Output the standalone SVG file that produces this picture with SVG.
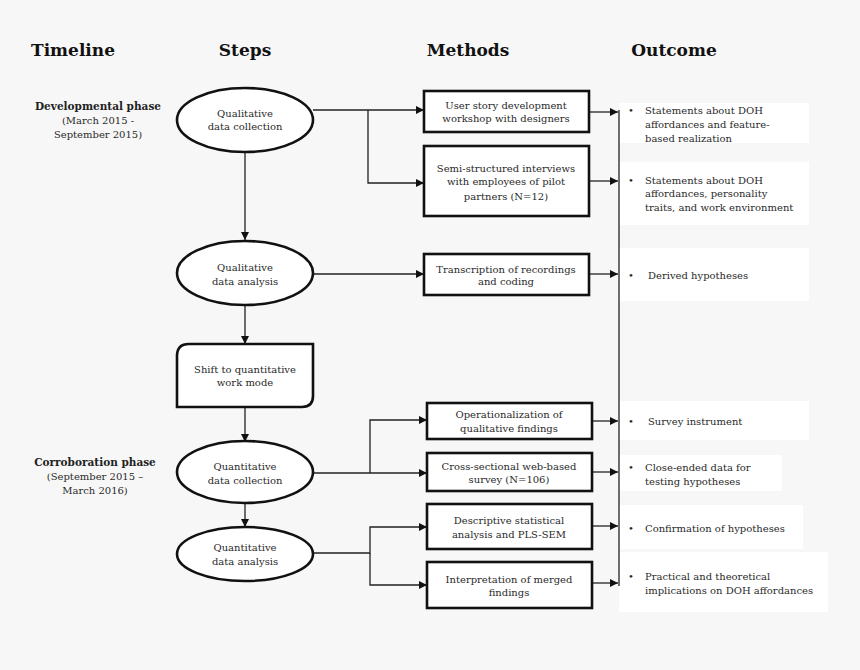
<svg xmlns="http://www.w3.org/2000/svg" width="860" height="670" viewBox="0 0 860 670">
<defs>
<style>
text{font-family:"DejaVu Serif","Liberation Serif",serif;fill:#2a2a2a;font-size:10px;}
.h{font-size:17px;font-weight:bold;fill:#111;}
.c{text-anchor:middle;}
.ph{font-weight:bold;fill:#222;font-size:10.5px;}
.n{fill:#fff;stroke:#111;stroke-width:2.6;}
.o{fill:#fff;stroke:none;}
.l{fill:none;stroke:#222;stroke-width:1.3;}
</style>
<marker id="a" viewBox="0 0 10 10" refX="10" refY="5" markerWidth="9" markerHeight="8" markerUnits="userSpaceOnUse" orient="auto"><path d="M0,0L10,5L0,10z" fill="#111"/></marker>
</defs>
<rect width="860" height="670" fill="#f7f7f7"/>
<g id="headers">
<text class="h c" x="73" y="56">Timeline</text>
<text class="h c" x="245" y="56">Steps</text>
<text class="h c" x="468" y="56">Methods</text>
<text class="h c" x="674" y="56">Outcome</text>
</g>
<g id="timeline">
<text class="ph c" x="98" y="110">Developmental phase</text>
<text class="c" x="98" y="124">(March 2015 -</text>
<text class="c" x="98" y="138">September 2015)</text>
<text class="ph c" x="95" y="466">Corroboration phase</text>
<text class="c" x="95" y="480">(September 2015 –</text>
<text class="c" x="95" y="494">March 2016)</text>
</g>
<g id="outcomes">
<rect class="o" x="619" y="103" width="190" height="40"/>
<rect class="o" x="619" y="162" width="190" height="63"/>
<rect class="o" x="619" y="248" width="190" height="53"/>
<rect class="o" x="619" y="401" width="190" height="39"/>
<rect class="o" x="619" y="455" width="163" height="36"/>
<rect class="o" x="619" y="505" width="184" height="44"/>
<rect class="o" x="619" y="552" width="209" height="60"/>
<text x="628" y="114">•</text><text x="645" y="114">Statements about DOH</text><text x="645" y="128">affordances and feature-</text><text x="645" y="142">based realization</text>
<text x="628" y="184">•</text><text x="645" y="184">Statements  about DOH</text><text x="645" y="197">affordances, personality</text><text x="645" y="211">traits, and work environment</text>
<text x="628" y="279">•</text><text x="648" y="279">Derived hypotheses</text>
<text x="628" y="425">•</text><text x="648" y="425">Survey instrument</text>
<text x="628" y="471">•</text><text x="645" y="471">Close-ended data for</text><text x="645" y="485">testing hypotheses</text>
<text x="628" y="532">•</text><text x="645" y="532">Confirmation of hypotheses</text>
<text x="628" y="580">•</text><text x="645" y="580">Practical and theoretical</text><text x="645" y="594">implications on DOH affordances</text>
</g>
<g id="connectors">
<path class="l" d="M245,152V240" marker-end="url(#a)"/>
<path class="l" d="M245,305V344" marker-end="url(#a)"/>
<path class="l" d="M245,407V442" marker-end="url(#a)"/>
<path class="l" d="M245,503V527" marker-end="url(#a)"/>
<path class="l" d="M313,110H424" marker-end="url(#a)"/>
<path class="l" d="M368,110V183H424" marker-end="url(#a)"/>
<path class="l" d="M313,274H424" marker-end="url(#a)"/>
<path class="l" d="M313,473H427" marker-end="url(#a)"/>
<path class="l" d="M370,473V420H427" marker-end="url(#a)"/>
<path class="l" d="M313,553H370V527H427" marker-end="url(#a)"/>
<path class="l" d="M370,553V585H427" marker-end="url(#a)"/>
<path class="l" d="M589,112H618" marker-end="url(#a)"/>
<path class="l" d="M589,181H618" marker-end="url(#a)"/>
<path class="l" d="M589,274H618" marker-end="url(#a)"/>
<path class="l" d="M592,421H618" marker-end="url(#a)"/>
<path class="l" d="M592,472H618" marker-end="url(#a)"/>
<path class="l" d="M592,526H618" marker-end="url(#a)"/>
<path class="l" d="M592,583H618" marker-end="url(#a)"/>
<path class="l" d="M619,110V586"/>
</g>
<g id="step1"><ellipse class="n" cx="245" cy="120" rx="68" ry="32"/><text class="c" x="245" y="117">Qualitative</text><text class="c" x="245" y="130">data collection</text></g>
<g id="step2"><ellipse class="n" cx="245" cy="273" rx="68" ry="32"/><text class="c" x="245" y="271">Qualitative</text><text class="c" x="245" y="285">data analysis</text></g>
<g id="step3"><path class="n" d="M189,344H313V396Q313,407 302,407H177V356Q177,344 189,344Z"/><text class="c" x="245" y="373">Shift to quantitative</text><text class="c" x="245" y="386">work mode</text></g>
<g id="step4"><ellipse class="n" cx="245" cy="472" rx="68" ry="31"/><text class="c" x="245" y="470">Quantitative</text><text class="c" x="245" y="484">data collection</text></g>
<g id="step5"><ellipse class="n" cx="245" cy="554" rx="68" ry="27"/><text class="c" x="245" y="551">Quantitative</text><text class="c" x="245" y="565">data analysis</text></g>
<g id="m1"><rect class="n" x="424" y="91" width="165" height="41"/><text class="c" x="506" y="109">User story development</text><text class="c" x="506" y="122">workshop with designers</text></g>
<g id="m2"><rect class="n" x="424" y="146" width="165" height="70"/><text class="c" x="506" y="172">Semi-structured interviews</text><text class="c" x="506" y="185">with employees of pilot</text><text class="c" x="506" y="200">partners (N=12)</text></g>
<g id="m3"><rect class="n" x="424" y="254" width="165" height="41"/><text class="c" x="506" y="273">Transcription of recordings</text><text class="c" x="506" y="285">and coding</text></g>
<g id="m4"><rect class="n" x="427" y="403" width="165" height="36"/><text class="c" x="509" y="418">Operationalization of</text><text class="c" x="509" y="432">qualitative findings</text></g>
<g id="m5"><rect class="n" x="427" y="453" width="165" height="38"/><text class="c" x="509" y="470">Cross-sectional web-based</text><text class="c" x="509" y="483">survey (N=106)</text></g>
<g id="m6"><rect class="n" x="427" y="504" width="165" height="45"/><text class="c" x="509" y="524">Descriptive statistical</text><text class="c" x="509" y="538">analysis and PLS-SEM</text></g>
<g id="m7"><rect class="n" x="427" y="562" width="165" height="46"/><text class="c" x="509" y="583">Interpretation of merged</text><text class="c" x="509" y="596">findings</text></g>
</svg>
